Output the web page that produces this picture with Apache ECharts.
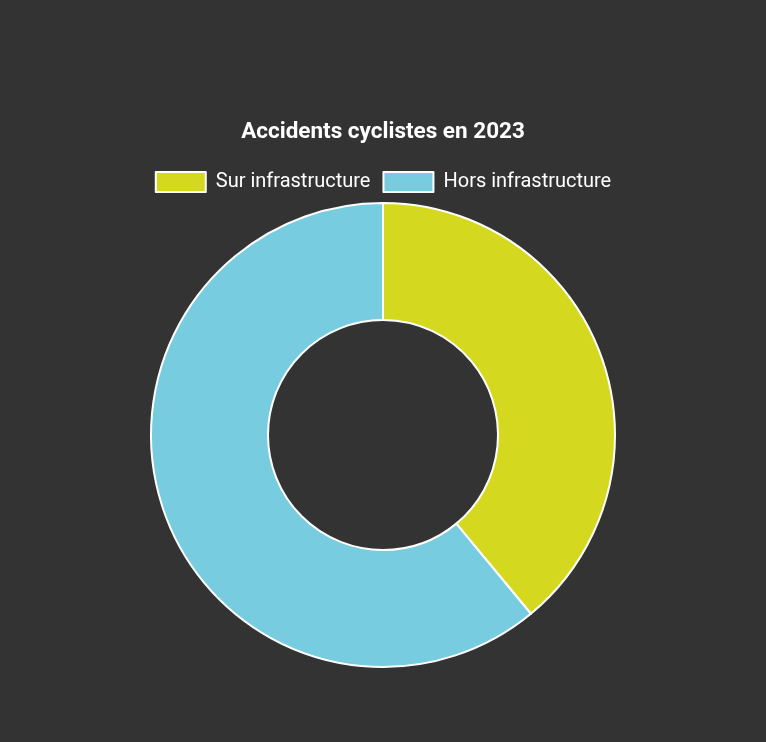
<!DOCTYPE html>
<html><head><meta charset="utf-8">
<script src="https://cdn.jsdelivr.net/npm/echarts@6/dist/echarts.min.js"></script>
<style>html,body{margin:0;padding:0;background:#333333;}#c{width:766px;height:742px;}</style>
</head><body><div id="c"></div>
<script>
const categories = ["Sur infrastructure", "Hors infrastructure"];
const values = [39, 61];
const colors = ["#d4d920", "#77cddf"];
const titleText = "Accidents cyclistes en 2023";

const chart = echarts.init(document.getElementById('c'));
chart.setOption({
  backgroundColor: '#333333',
  animation: false,
  title: {
    text: titleText, left: 'center', top: 116,
    textStyle: { color: '#ffffff', fontFamily: 'Roboto', fontWeight: 'bold', fontSize: 22.5 }
  },
  legend: {
    top: 166, left: 'center', itemWidth: 50, itemHeight: 20, itemGap: 12,
    icon: 'rect',
    itemStyle: { borderColor: '#ffffff', borderWidth: 2 },
    textStyle: { color: '#ffffff', fontFamily: 'Roboto', fontSize: 20, padding: [0,0,0,5] },
    data: categories
  },
  series: [{
    type: 'pie',
    center: [383, 435],
    radius: [115, 232],
    startAngle: 90,
    clockwise: true,
    label: { show: false },
    labelLine: { show: false },
    emphasis: { disabled: true },
    itemStyle: { borderColor: '#ffffff', borderWidth: 2 },
    data: categories.map((c, i) => ({ name: c, value: values[i], itemStyle: { color: colors[i] } }))
  }]
});
</script></body></html>
